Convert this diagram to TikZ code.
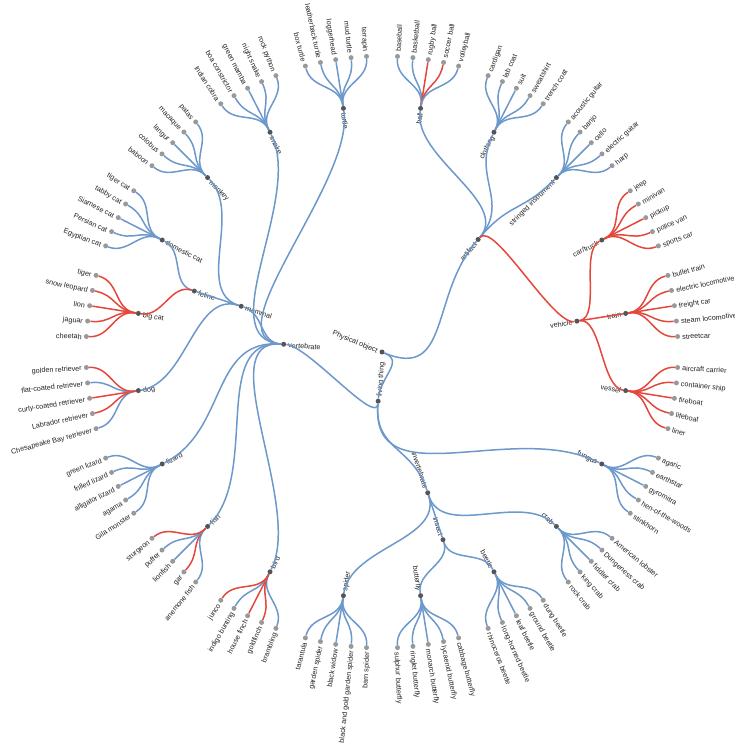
\documentclass[tikz,border=0pt]{standalone}
\usepackage{fontspec}
\setmainfont{Liberation Sans}
\usetikzlibrary{calc}
\definecolor{edgeblue}{HTML}{6C98CB}
\definecolor{edgered}{HTML}{E4473C}
\definecolor{leafgray}{HTML}{999999}
\definecolor{innergray}{HTML}{555555}
\definecolor{txtcol}{HTML}{222222}
\tikzset{
  blu/.style={draw=edgeblue, line width=1.5pt},
  rd/.style={draw=edgered, line width=1.5pt},
  leafdot/.style={circle, fill=leafgray, inner sep=0pt, minimum size=5pt},
  innerdot/.style={circle, fill=innergray, inner sep=0pt, minimum size=5pt},
  lbl/.style={font=\fontsize{7.2}{8.6}\selectfont, text=txtcol, inner xsep=4.5pt, inner ysep=0pt, text height=0.62em, text depth=0pt},
}
\def\ancleafz{west}\def\ancleafo{east}
\def\ancinnerz{east}\def\ancinnero{west}
% #1 leaf|inner, #2 name, #3 angle (clockwise from top), #4 radius, #5 text
\newcommand\tn[5]{%
  \pgfmathsetmacro\angT{90-(#3)}%
  \pgfmathsetmacro\radT{#4}%
  \expandafter\xdef\csname A@#2\endcsname{\angT}%
  \expandafter\xdef\csname R@#2\endcsname{\radT}%
  \node[#1dot] (#2) at ($(root)+(\angT:\radT pt)$) {};%
  \pgfmathtruncatemacro\flip{(#3)>179.9?1:0}%
  \ifnum\flip=1 \pgfmathsetmacro\rotT{\angT+180}\else\let\rotT\angT\fi
  \edef\ancT{\csname anc#1\ifnum\flip=1 o\else z\fi\endcsname}%
  \node[lbl, rotate=\rotT, anchor=\ancT] (#2-t) at (#2) {#5};%
}
% radial link: #1 style, #2 parent, #3 child
\newcommand\ed[3][blu]{%
  \edef\angA{\csname A@#2\endcsname}\edef\angB{\csname A@#3\endcsname}%
  \edef\radA{\csname R@#2\endcsname}\edef\radB{\csname R@#3\endcsname}%
  \pgfmathsetmacro\rmid{(\radA+\radB)/2}%
  \draw[#1] (#2) .. controls ($(root)+(\angA:\rmid pt)$) and ($(root)+(\angB:\rmid pt)$) .. (#3);%
}
% leaf: #1 style, #2 parent, #3 slot, #4 text
\newcommand\lf[4][blu]{%
  \pgfmathsetmacro\dthree{3*(#3)}%
  \tn{leaf}{l#3}{\dthree}{296}{#4}%
  \ed[#1]{#2}{l#3}%
}
\begin{document}
\begin{tikzpicture}[x=1pt,y=-1pt]
\useasboundingbox (0,0) rectangle (735,747);
\clip (0,0) rectangle (735,747);
% root
\node[innerdot] (root) at (382,352) {};
\expandafter\xdef\csname A@root\endcsname{-22.5}
\expandafter\xdef\csname R@root\endcsname{0}
\node[lbl, rotate=-22.5, anchor=east] (root-t) at (root) {Physical object};
% internal nodes
\tn{inner}{living}{184.5}{49.333}{living thing}
\tn{inner}{artifact}{40.5}{148}{artifact}
\tn{inner}{vertebrate}{274.5}{98.667}{vertebrate}
\tn{inner}{invertebrate}{162}{148}{invertebrate}
\tn{inner}{fungus}{117}{246.667}{fungus}
\tn{inner}{mammal}{288}{148}{mammal}
\tn{inner}{feline}{288}{197.333}{feline}
\tn{inner}{dog}{261}{246.667}{dog}
\tn{inner}{monkey}{315}{246.667}{monkey}
\tn{inner}{bigcat}{279}{246.667}{big cat}
\tn{inner}{domcat}{297}{246.667}{domestic cat}
\tn{inner}{snake}{333}{246.667}{snake}
\tn{inner}{turtle}{351}{246.667}{turtle}
\tn{inner}{lizard}{243}{246.667}{lizard}
\tn{inner}{fish}{225}{246.667}{fish}
\tn{inner}{bird}{207}{246.667}{bird}
\tn{inner}{insect}{162}{197.333}{insect}
\tn{inner}{crab}{135}{246.667}{crab}
\tn{inner}{beetle}{153}{246.667}{beetle}
\tn{inner}{butterfly}{171}{246.667}{butterfly}
\tn{inner}{spider}{189}{246.667}{spider}
\tn{inner}{ball}{9}{246.667}{ball}
\tn{inner}{clothing}{27}{246.667}{clothing}
\tn{inner}{stringed}{45}{246.667}{stringed instrument}
\tn{inner}{vehicle}{81}{197.333}{vehicle}
\tn{inner}{cartruck}{63}{246.667}{car/truck}
\tn{inner}{train}{81}{246.667}{train}
\tn{inner}{vessel}{99}{246.667}{vessel}
% internal links
\ed{root}{living}
\ed{root}{artifact}
\ed{living}{vertebrate}
\ed{living}{invertebrate}
\ed{living}{fungus}
\ed{artifact}{ball}
\ed{artifact}{clothing}
\ed{artifact}{stringed}
\ed[rd]{artifact}{vehicle}
\ed[rd]{vehicle}{cartruck}
\ed[rd]{vehicle}{train}
\ed[rd]{vehicle}{vessel}
\ed{vertebrate}{mammal}
\ed{vertebrate}{lizard}
\ed{vertebrate}{fish}
\ed{vertebrate}{bird}
\ed{vertebrate}{snake}
\ed{vertebrate}{turtle}
\ed{mammal}{dog}
\ed{mammal}{feline}
\ed{mammal}{monkey}
\ed{feline}{domcat}
\ed[rd]{feline}{bigcat}
\ed{invertebrate}{crab}
\ed{invertebrate}{insect}
\ed{invertebrate}{spider}
\ed{insect}{beetle}
\ed{insect}{butterfly}
% leaves
\lf{ball}{1}{baseball}
\lf{ball}{2}{basketball}
\lf[rd]{ball}{3}{rugby ball}
\lf[rd]{ball}{4}{soccer ball}
\lf{ball}{5}{volleyball}
\lf{clothing}{7}{cardigan}
\lf{clothing}{8}{lab coat}
\lf{clothing}{9}{suit}
\lf{clothing}{10}{sweatshirt}
\lf{clothing}{11}{trench coat}
\lf{stringed}{13}{acoustic guitar}
\lf{stringed}{14}{banjo}
\lf{stringed}{15}{cello}
\lf{stringed}{16}{electric guitar}
\lf{stringed}{17}{harp}
\lf[rd]{cartruck}{19}{jeep}
\lf[rd]{cartruck}{20}{minivan}
\lf[rd]{cartruck}{21}{pickup}
\lf[rd]{cartruck}{22}{police van}
\lf[rd]{cartruck}{23}{sports car}
\lf[rd]{train}{25}{bullet train}
\lf[rd]{train}{26}{electric locomotive}
\lf[rd]{train}{27}{freight car}
\lf[rd]{train}{28}{steam locomotive}
\lf[rd]{train}{29}{streetcar}
\lf[rd]{vessel}{31}{aircraft carrier}
\lf[rd]{vessel}{32}{container ship}
\lf[rd]{vessel}{33}{fireboat}
\lf[rd]{vessel}{34}{lifeboat}
\lf[rd]{vessel}{35}{liner}
\lf{fungus}{37}{agaric}
\lf{fungus}{38}{earthstar}
\lf{fungus}{39}{gyromitra}
\lf{fungus}{40}{hen-of-the-woods}
\lf{fungus}{41}{stinkhorn}
\lf{crab}{43}{American lobster}
\lf{crab}{44}{Dungeness crab}
\lf{crab}{45}{fiddler crab}
\lf{crab}{46}{king crab}
\lf{crab}{47}{rock crab}
\lf{beetle}{49}{dung beetle}
\lf{beetle}{50}{ground beetle}
\lf{beetle}{51}{leaf beetle}
\lf{beetle}{52}{long-horned beetle}
\lf{beetle}{53}{rhinoceros beetle}
\lf{butterfly}{55}{cabbage butterfly}
\lf{butterfly}{56}{lycaenid butterfly}
\lf{butterfly}{57}{monarch butterfly}
\lf{butterfly}{58}{ringlet butterfly}
\lf{butterfly}{59}{sulphur butterfly}
\lf{spider}{61}{barn spider}
\lf{spider}{62}{black and gold garden spider}
\lf{spider}{63}{black widow}
\lf{spider}{64}{garden spider}
\lf{spider}{65}{tarantula}
\lf{bird}{67}{brambling}
\lf[rd]{bird}{68}{goldfinch}
\lf[rd]{bird}{69}{house finch}
\lf{bird}{70}{indigo bunting}
\lf[rd]{bird}{71}{junco}
\lf{fish}{73}{anemone fish}
\lf[rd]{fish}{74}{gar}
\lf{fish}{75}{lionfish}
\lf{fish}{76}{puffer}
\lf[rd]{fish}{77}{sturgeon}
\lf{lizard}{79}{Gila monster}
\lf{lizard}{80}{agama}
\lf{lizard}{81}{alligator lizard}
\lf{lizard}{82}{frilled lizard}
\lf{lizard}{83}{green lizard}
\lf{dog}{85}{Chesapeake Bay retriever}
\lf[rd]{dog}{86}{Labrador retriever}
\lf[rd]{dog}{87}{curly-coated retriever}
\lf{dog}{88}{flat-coated retriever}
\lf[rd]{dog}{89}{golden retriever}
\lf[rd]{bigcat}{91}{cheetah}
\lf[rd]{bigcat}{92}{jaguar}
\lf[rd]{bigcat}{93}{lion}
\lf[rd]{bigcat}{94}{snow leopard}
\lf[rd]{bigcat}{95}{tiger}
\lf{domcat}{97}{Egyptian cat}
\lf{domcat}{98}{Persian cat}
\lf{domcat}{99}{Siamese cat}
\lf{domcat}{100}{tabby cat}
\lf{domcat}{101}{tiger cat}
\lf{monkey}{103}{baboon}
\lf{monkey}{104}{colobus}
\lf{monkey}{105}{langur}
\lf{monkey}{106}{macaque}
\lf{monkey}{107}{patas}
\lf{snake}{109}{Indian cobra}
\lf{snake}{110}{boa constrictor}
\lf{snake}{111}{green mamba}
\lf{snake}{112}{night snake}
\lf{snake}{113}{rock python}
\lf{turtle}{115}{box turtle}
\lf{turtle}{116}{leatherback turtle}
\lf{turtle}{117}{loggerhead}
\lf{turtle}{118}{mud turtle}
\lf{turtle}{119}{terrapin}
\end{tikzpicture}
\end{document}
